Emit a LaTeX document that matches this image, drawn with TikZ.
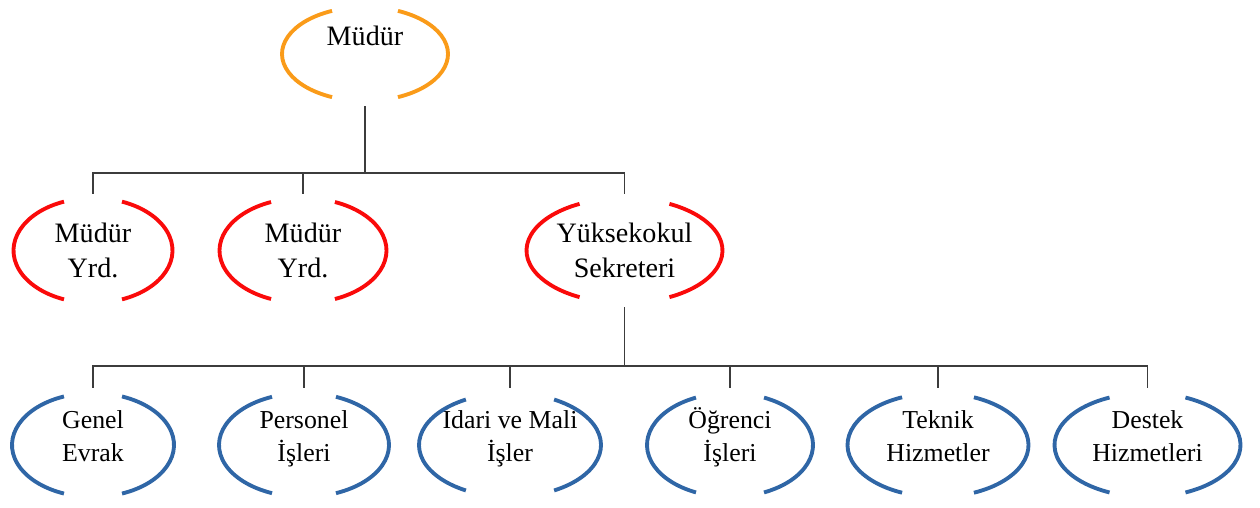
\documentclass[tikz,border=0pt]{standalone}
\usepackage{fontspec}
\setmainfont{Liberation Serif}
\definecolor{headorange}{RGB}{250,155,25}
\definecolor{deputyred}{RGB}{250,10,10}
\definecolor{unitblue}{RGB}{47,102,166}
\definecolor{linkgray}{RGB}{60,60,60}
\newcommand{\brackets}[5]{%
  \draw[#2] ([shift={(180-#5:#3 and #4)}]#1.center) arc[start angle=180-#5, end angle=180+#5, x radius=#3, y radius=#4];
  \draw[#2] ([shift={(-#5:#3 and #4)}]#1.center) arc[start angle=-#5, end angle=#5, x radius=#3, y radius=#4];
}
\begin{document}
\begin{tikzpicture}[x=0.02cm, y=-0.02cm,
    top/.style={inner sep=0pt, font=\fontsize{16}{20}\selectfont, minimum height=2.08cm, text height=0.4cm, text depth=0.76cm},
    mid/.style={inner sep=0pt, align=center, font=\fontsize{16}{20}\selectfont, minimum height=2.26cm},
    low/.style={inner sep=0pt, align=center, font=\fontsize{14.7}{18.7}\selectfont, minimum height=2.28cm, text height=1.0cm, text depth=0.36cm},
    orangearc/.style={draw=headorange, line width=2.2pt},
    redarc/.style={draw=deputyred, line width=2.2pt},
    bluearc/.style={draw=unitblue, line width=2.2pt},
    link/.style={draw=linkgray, line width=0.9pt}]
    \useasboundingbox (0,0) rectangle (1260,507);
    \node[top] (1) at (365,54) {Müdür};
    \node[mid] (2) at (93,250.5) {Müdür\\Yrd.};
    \node[mid] (3) at (303,250.5) {Müdür\\Yrd.};
    \node[mid] (4) at (624.5,250.5) {Yüksekokul\\Sekreteri};
    \node[low] (5) at (93,445) {Genel\\Evrak};
    \node[low] (6) at (304,445) {Personel\\İşleri};
    \node[low] (7) at (510,445) {İdari ve Mali\\İşler};
    \node[low] (8) at (730,445) {Öğrenci\\İşleri};
    \node[low] (9) at (938,445) {Teknik\\Hizmetler};
    \node[low] (10) at (1147.5,445) {Destek\\Hizmetleri};
    \brackets{1}{orangearc}{1.66cm}{0.94cm}{66.6}
    \brackets{2}{redarc}{1.59cm}{1.05cm}{68.6}
    \brackets{3}{redarc}{1.67cm}{1.05cm}{67.5}
    \brackets{4}{redarc}{1.96cm}{1.05cm}{62.7}
    \brackets{5}{bluearc}{1.62cm}{1.04cm}{69}
    \brackets{6}{bluearc}{1.70cm}{1.04cm}{67.9}
    \brackets{7}{bluearc}{1.82cm}{1.04cm}{61}
    \brackets{8}{bluearc}{1.66cm}{1.04cm}{65.8}
    \brackets{9}{bluearc}{1.81cm}{1.04cm}{66.6}
    \brackets{10}{bluearc}{1.86cm}{1.04cm}{65.9}
    \coordinate (b1) at (365,173);
    \coordinate (b2) at (624.5,366);
    \draw[link] (1) -- (b1);
    \draw[link] (b1) -| (2);
    \draw[link] (b1) -| (3);
    \draw[link] (b1) -| (4);
    \draw[link] (4) -- (b2);
    \draw[link] (b2) -| (5);
    \draw[link] (b2) -| (6);
    \draw[link] (b2) -| (7);
    \draw[link] (b2) -| (8);
    \draw[link] (b2) -| (9);
    \draw[link] (b2) -| (10);
\end{tikzpicture}
\end{document}
